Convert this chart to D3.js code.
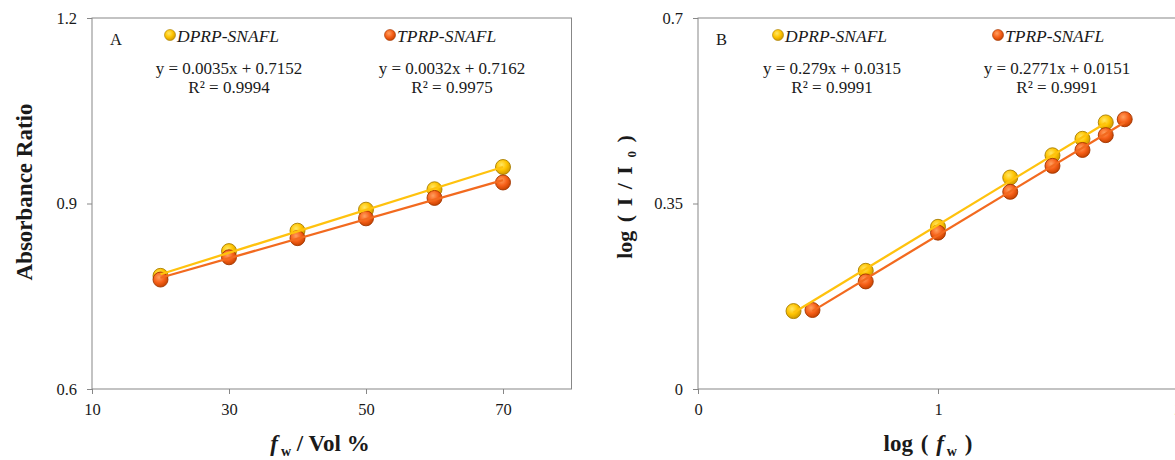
<!DOCTYPE html>
<html>
<head>
<meta charset="utf-8">
<script src="https://cdn.jsdelivr.net/npm/d3@7"></script>
<style>
  body { margin: 0; background: #fff; }
  svg { display: block; font-family: "Liberation Serif", "Times New Roman", serif; }
</style>
</head>
<body>
<script>
const W = 1175, H = 460;

// panel A : absorbance ratio vs water fraction
const fwA = [20, 30, 40, 50, 60, 70];
const dprpA = [0.783, 0.823, 0.856, 0.890, 0.923, 0.959];
const tprpA = [0.777, 0.813, 0.844, 0.876, 0.909, 0.934];
const xTicksA = [10, 30, 50, 70];
const yTicksA = [0.6, 0.9, 1.2];
const eqA = ["y = 0.0035x + 0.7152", "y = 0.0032x + 0.7162"];
const r2A = ["R\u00B2 = 0.9994", "R\u00B2 = 0.9975"];

// panel B : log(I/I0) vs log(fw)
const logFwDprpB = [0.398, 0.699, 1.0, 1.301, 1.477, 1.602, 1.699];
const dprpB = [0.147, 0.223, 0.306, 0.399, 0.441, 0.472, 0.503];
const logFwTprpB = [0.477, 0.699, 1.0, 1.301, 1.477, 1.602, 1.699, 1.778];
const tprpB = [0.149, 0.203, 0.295, 0.372, 0.421, 0.451, 0.479, 0.509];
const xTicksB = [0, 1, 2];
const yTicksB = [0, 0.35, 0.7];
const eqB = ["y = 0.279x + 0.0315", "y = 0.2771x + 0.0151"];
const r2B = ["R\u00B2 = 0.9991", "R\u00B2 = 0.9991"];

const seriesNames = ["DPRP-SNAFL", "TPRP-SNAFL"];

const lineColors = ["#FFC20E", "#F26A1F"];
const axisColor = "#878787";
const textColor = "#1a1a1a";

const svg = d3.select("body").append("svg").attr("width", W).attr("height", H);

const defs = svg.append("defs");
[["gY", "#FFE766", "#FFC400", "#D19A00"], ["gO", "#FFA060", "#F7611A", "#C94300"]].forEach(function (g) {
    const rg = defs.append("radialGradient").attr("id", g[0])
        .attr("cx", "40%").attr("cy", "35%").attr("r", "65%");
    rg.append("stop").attr("offset", "0%").attr("stop-color", g[1]);
    rg.append("stop").attr("offset", "55%").attr("stop-color", g[2]);
    rg.append("stop").attr("offset", "100%").attr("stop-color", g[3]);
});
const markerFill = ["url(#gY)", "url(#gO)"];
const markerStroke = ["#A87E00", "#A03600"];

function fit(xs, ys) {
    const mx = d3.mean(xs), my = d3.mean(ys);
    const b = d3.sum(xs, (v, i) => (v - mx) * (ys[i] - my)) / d3.sum(xs, v => (v - mx) * (v - mx));
    return {b: b, a: my - b * mx};
}

function drawPanel(p) {
    const x = p.x, y = p.y;
    const g = svg.append("g");
    const x0 = x.range()[0], x1 = x.range()[1], y0 = y.range()[0], y1 = y.range()[1];

    g.append("rect")
        .attr("x", x0).attr("y", y1).attr("width", x1 - x0).attr("height", y0 - y1)
        .attr("fill", "none").attr("stroke", axisColor).attr("stroke-width", 1);

    const ay = g.append("g").attr("transform", "translate(" + x0 + ",0)")
        .call(d3.axisLeft(y).tickValues(p.yTicks).tickSize(5).tickPadding(10).tickFormat(p.yFmt));
    const ax = g.append("g").attr("transform", "translate(0," + y0 + ")")
        .call(d3.axisBottom(x).tickValues(p.xTicks).tickSize(5).tickPadding(9).tickFormat(d => String(d)));
    [ay, ax].forEach(function (a) {
        a.select(".domain").remove();
        a.selectAll("line").attr("stroke", axisColor);
        a.selectAll("text").attr("fill", textColor)
            .style("font-family", "'Liberation Serif', serif").style("font-size", "16.5px");
    });

    // markers first, trend lines on top
    p.series.forEach(function (s, i) {
        g.selectAll(null).data(s.xs).enter().append("circle")
            .attr("cx", d => x(d))
            .attr("cy", (d, j) => y(s.ys[j]))
            .attr("r", 7.5)
            .attr("fill", markerFill[i])
            .attr("stroke", markerStroke[i]).attr("stroke-width", 0.9);
    });
    p.series.forEach(function (s, i) {
        const f = fit(s.xs, s.ys);
        const xa = s.xs[0], xb = s.xs[s.xs.length - 1];
        g.append("line")
            .attr("x1", x(xa)).attr("y1", y(f.a + f.b * xa))
            .attr("x2", x(xb)).attr("y2", y(f.a + f.b * xb))
            .attr("stroke", lineColors[i]).attr("stroke-width", 2.3);
    });

    g.append("text").attr("x", p.letterX).attr("y", 45)
        .attr("fill", textColor).style("font-size", "16.5px").text(p.letter);

    seriesNames.forEach(function (name, i) {
        g.append("circle").attr("cx", p.legendX[i]).attr("cy", 35).attr("r", 5.5)
            .attr("fill", markerFill[i]).attr("stroke", markerStroke[i]).attr("stroke-width", 0.6);
        g.append("text").attr("x", p.legendX[i] + 7).attr("y", 42)
            .attr("fill", textColor).style("font-size", "17.5px").style("font-style", "italic")
            .text(name);
        g.append("text").attr("x", p.eqX[i]).attr("y", 74).attr("text-anchor", "middle")
            .attr("fill", textColor).style("font-size", "17px").text(p.eq[i]);
        g.append("text").attr("x", p.eqX[i]).attr("y", 93).attr("text-anchor", "middle")
            .attr("fill", textColor).style("font-size", "17px").text(p.r2[i]);
    });
}

const xA = d3.scaleLinear().domain([10, 80]).range([92, 571.5]);
const yA = d3.scaleLinear().domain([0.6, 1.2]).range([389, 18]);
const xB = d3.scaleLinear().domain([0, 2]).range([698, 1178]);
const yB = d3.scaleLinear().domain([0, 0.7]).range([389, 18]);

drawPanel({
    x: xA, y: yA, xTicks: xTicksA, yTicks: yTicksA, yFmt: d3.format(".1f"),
    series: [{xs: fwA, ys: dprpA}, {xs: fwA, ys: tprpA}],
    letter: "A", letterX: 110, legendX: [170, 390], eqX: [229, 452], eq: eqA, r2: r2A
});
drawPanel({
    x: xB, y: yB, xTicks: xTicksB, yTicks: yTicksB, yFmt: d => String(d),
    series: [{xs: logFwDprpB, ys: dprpB}, {xs: logFwTprpB, ys: tprpB}],
    letter: "B", letterX: 716, legendX: [778, 998], eqX: [832, 1057], eq: eqB, r2: r2B
});

// axis titles
svg.append("text")
    .attr("transform", "translate(32,192) rotate(-90)")
    .attr("text-anchor", "middle").attr("fill", textColor)
    .style("font-size", "23px").style("font-weight", "bold")
    .text("Absorbance Ratio");

const tA = svg.append("text").attr("x", 320).attr("y", 451).attr("text-anchor", "middle")
    .attr("fill", textColor).style("font-size", "23px").style("font-weight", "bold");
tA.append("tspan").style("font-style", "italic").text("f");
tA.append("tspan").attr("dx", 3).attr("dy", 5).style("font-size", "14px").text("w");
tA.append("tspan").attr("dy", -5).text(" / Vol %");

const tB = svg.append("text").attr("x", 928).attr("y", 451).attr("text-anchor", "middle")
    .attr("fill", textColor).style("font-size", "23px").style("font-weight", "bold")
    .style("word-spacing", "2px");
tB.append("tspan").text("log ( ");
tB.append("tspan").style("font-style", "italic").text("f");
tB.append("tspan").attr("dx", 3).attr("dy", 5).style("font-size", "14px").text("w");
tB.append("tspan").attr("dy", -5).text(" )");

const tYB = svg.append("text")
    .attr("transform", "translate(632,197) rotate(-90)")
    .attr("text-anchor", "middle").attr("fill", textColor)
    .style("font-size", "22px").style("font-weight", "bold").style("word-spacing", "3px");
tYB.append("tspan").text("log (  I  /  I ");
tYB.append("tspan").attr("dy", 4).style("font-size", "13px").text("0");
tYB.append("tspan").attr("dy", -4).text("  )");
</script>
</body>
</html>
